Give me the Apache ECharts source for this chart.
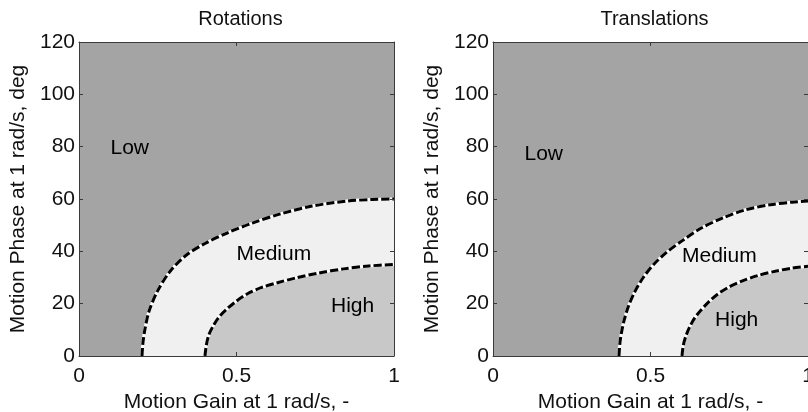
<!DOCTYPE html>
<html>
<head>
<meta charset="utf-8">
<script src="https://cdn.jsdelivr.net/npm/echarts@6/dist/echarts.min.js"></script>
<style>
  html, body { margin: 0; padding: 0; background: #ffffff; }
  #chart { width: 808px; height: 412px; }
</style>
</head>
<body>
<div id="chart"></div>
<script>
// Boundary curves between rating regions: [motion gain, motion phase (deg)]
const rotMediumBoundary = [[0.2,0],[0.203,5],[0.209,10],[0.222,17],[0.25,25],[0.29,32.5],[0.34,38.5],[0.40,43],[0.47,47],[0.55,50.8],[0.64,54.3],[0.74,57.3],[0.85,59.2],[0.93,59.8],[1.0,60]];
const rotHighBoundary = [[0.4,0],[0.404,4],[0.412,8],[0.426,11.5],[0.445,15],[0.47,18],[0.5,21],[0.535,23.8],[0.58,26.2],[0.63,28],[0.69,29.9],[0.76,31.7],[0.84,33.3],[0.92,34.4],[1.0,35]];
const transMediumBoundary = [[0.4,0],[0.403,5],[0.408,9],[0.416,13.5],[0.43,19],[0.45,24.5],[0.477,30],[0.51,35],[0.55,39.5],[0.6,44],[0.66,48.8],[0.73,52.8],[0.8,55.8],[0.88,57.8],[0.95,58.8],[1.0,59.2]];
const transHighBoundary = [[0.6,0],[0.604,4],[0.612,7.5],[0.624,11],[0.64,14.5],[0.66,17.5],[0.685,20.7],[0.715,23.8],[0.75,26.4],[0.79,28.6],[0.84,30.7],[0.9,32.5],[0.95,33.6],[1.0,34.3]];

// Region labels: [gain, phase, text]
const rotRegionLabels = [[0.1,79.5,'Low'],[0.5,39,'Medium'],[0.8,19,'High']];
const transRegionLabels = [[0.1,77,'Low'],[0.6,38,'Medium'],[0.705,13.5,'High']];

const panelTitles = ['Rotations', 'Translations'];
const xName = 'Motion Gain at 1 rad/s, -';
const yName = 'Motion Phase at 1 rad/s, deg';
const xTicks = { min: 0, max: 1, interval: 0.5 };
const yTicks = { min: 0, max: 120, interval: 20 };

const FONT = '"Liberation Sans", Arial, Helvetica, sans-serif';
const LOW = '#a4a4a4', MEDIUM = '#f0f0f0', HIGH = '#c8c8c8';
const FRAME = '#3a3a3a', TEXT = '#111111';

const grids = [
  { left: 79, top: 42, width: 315, height: 314 },
  { left: 493, top: 42, width: 315, height: 314 }
];

const chart = echarts.init(document.getElementById('chart'), null, { renderer: 'canvas' });

const xAxes = [], yAxes = [], series = [];
grids.forEach((g, i) => {
  const tick = { show: true, inside: true, length: 4, lineStyle: { color: FRAME, width: 1 } };
  const line = { show: true, onZero: false, lineStyle: { color: FRAME, width: 1 } };
  xAxes.push({
    gridIndex: i, type: 'value', position: 'bottom', z: 10,
    min: xTicks.min, max: xTicks.max, interval: xTicks.interval,
    name: xName, nameLocation: 'middle', nameGap: 32,
    nameTextStyle: { fontFamily: FONT, fontSize: 21, color: TEXT },
    axisLine: line, axisTick: tick, splitLine: { show: false },
    axisLabel: { fontFamily: FONT, fontSize: 21, color: TEXT, margin: 10 }
  });
  xAxes.push({
    gridIndex: i, type: 'value', position: 'top', z: 10,
    min: xTicks.min, max: xTicks.max, interval: xTicks.interval,
    axisLine: line, axisTick: tick, splitLine: { show: false }, axisLabel: { show: false }
  });
  yAxes.push({
    gridIndex: i, type: 'value', position: 'left', z: 10,
    min: yTicks.min, max: yTicks.max, interval: yTicks.interval,
    name: yName, nameLocation: 'middle', nameGap: 50, nameRotate: 90,
    nameTextStyle: { fontFamily: FONT, fontSize: 21, color: TEXT },
    axisLine: line, axisTick: tick, splitLine: { show: false },
    axisLabel: { fontFamily: FONT, fontSize: 21, color: TEXT, margin: 4 }
  });
  yAxes.push({
    gridIndex: i, type: 'value', position: 'right', z: 10,
    min: yTicks.min, max: yTicks.max, interval: yTicks.interval,
    axisLine: line, axisTick: tick, splitLine: { show: false }, axisLabel: { show: false }
  });
});

function region(gi, data, fill) {
  return {
    type: 'line', xAxisIndex: gi * 2, yAxisIndex: gi * 2, data: data,
    smooth: 0.3, symbol: 'none', silent: true, z: 2,
    lineStyle: { color: '#ffffff', width: 3 },
    areaStyle: { color: fill, opacity: 1 }
  };
}
function dashed(gi, data) {
  return {
    type: 'line', xAxisIndex: gi * 2, yAxisIndex: gi * 2, data: data,
    smooth: 0.3, symbol: 'none', silent: true, z: 4,
    lineStyle: { color: '#000000', width: 3, type: [8, 3] }
  };
}
function labels(gi, data) {
  return {
    type: 'scatter', xAxisIndex: gi * 2, yAxisIndex: gi * 2, z: 6,
    symbolSize: 0, silent: true,
    data: data.map(d => ({ value: [d[0], d[1]], name: d[2] })),
    label: { show: true, position: 'right', distance: 0, formatter: p => p.name,
             fontFamily: FONT, fontSize: 21, color: '#000000', opacity: 1 }
  };
}

[[rotMediumBoundary, rotHighBoundary, rotRegionLabels],
 [transMediumBoundary, transHighBoundary, transRegionLabels]].forEach((p, gi) => {
  series.push(region(gi, p[0], MEDIUM));
  series.push(region(gi, p[1], HIGH));
  series.push(dashed(gi, p[0]));
  series.push(dashed(gi, p[1]));
  series.push(labels(gi, p[2]));
});

chart.setOption({
  animation: false,
  backgroundColor: '#ffffff',
  title: panelTitles.map((t, i) => ({
    text: t, left: grids[i].left + grids[i].width / 2 - 1, top: 4, textAlign: 'center',
    textStyle: { fontFamily: FONT, fontSize: 20, fontWeight: 'normal', color: TEXT }
  })),
  grid: grids.map(g => Object.assign({
    show: true, backgroundColor: LOW, borderWidth: 0,
    containLabel: false, outerBoundsMode: 'none'
  }, g)),
  xAxis: xAxes,
  yAxis: yAxes,
  series: series
});
</script>
</body>
</html>
